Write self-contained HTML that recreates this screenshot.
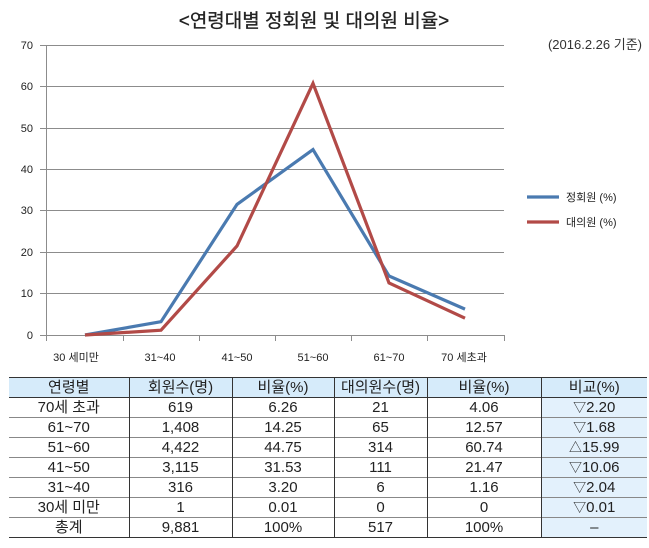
<!DOCTYPE html>
<html><head><meta charset="utf-8"><style>
body{margin:0;background:#fff;width:649px;height:548px;overflow:hidden;font-family:"Liberation Sans","Noto Sans CJK KR",sans-serif}
svg{position:absolute;left:0;top:0}
table{position:absolute;left:9px;top:377px;border-collapse:collapse;font-size:15px;color:#222}
td{height:19px;padding:0;text-align:center;border-left:1px solid #333;line-height:19px}
td:first-child{border-left:none}
tr{border-bottom:1px solid #888}
tr.h{background:#d6ebfa;border-top:1px solid #333;border-bottom:1px solid #333}
tr:last-child{border-bottom:1px solid #333}
td.c{background:#e3f1fc}
.t{font-size:13px}
</style></head><body>
<svg width="649" height="377" font-family="Liberation Sans, Noto Sans CJK KR, sans-serif">
<text x="314" y="27" font-size="19" text-anchor="middle" fill="#222" stroke="#222" stroke-width="0.3">&lt;연령대별 정회원 및 대의원 비율&gt;</text>
<text x="642" y="49" font-size="13" text-anchor="end" fill="#333">(2016.2.26 기준)</text>
<g stroke="#8c8c8c" stroke-width="1">
<line x1="40" y1="45.5" x2="504" y2="45.5"/><line x1="40" y1="86.5" x2="504" y2="86.5"/>
<line x1="40" y1="128.5" x2="504" y2="128.5"/><line x1="40" y1="169.5" x2="504" y2="169.5"/>
<line x1="40" y1="210.5" x2="504" y2="210.5"/><line x1="40" y1="252.5" x2="504" y2="252.5"/>
<line x1="40" y1="293.5" x2="504" y2="293.5"/><line x1="40" y1="335.5" x2="504" y2="335.5"/>
<line x1="46.5" y1="45" x2="46.5" y2="341"/>
<line x1="123.5" y1="335" x2="123.5" y2="341"/><line x1="199.5" y1="335" x2="199.5" y2="341"/>
<line x1="275.5" y1="335" x2="275.5" y2="341"/><line x1="351.5" y1="335" x2="351.5" y2="341"/>
<line x1="427.5" y1="335" x2="427.5" y2="341"/><line x1="504.5" y1="335" x2="504.5" y2="341"/>
</g>
<g font-size="11" fill="#222" text-anchor="end">
<text x="33" y="49">70</text><text x="33" y="90">60</text><text x="33" y="132">50</text><text x="33" y="173">40</text>
<text x="33" y="214">30</text><text x="33" y="256">20</text><text x="33" y="297">10</text><text x="33" y="339">0</text>
</g>
<g font-size="11" fill="#222" text-anchor="middle">
<text x="76" y="361">30 세미만</text><text x="160" y="361">31~40</text><text x="237" y="361">41~50</text>
<text x="313" y="361">51~60</text><text x="389" y="361">61~70</text><text x="464" y="361">70 세초과</text>
</g>
<polyline fill="none" stroke="#4a7ab0" stroke-width="3.2" points="85,335 161,321.7 237,204.4 313,149.6 389,276 465,309.1"/>
<polyline fill="none" stroke="#b24a47" stroke-width="3.2" points="85,335 161,330.2 237,246 313,83.4 389,282.9 465,318.2"/>
<line x1="527" y1="197" x2="559" y2="197" stroke="#4a7ab0" stroke-width="3.2"/>
<line x1="527" y1="222" x2="559" y2="222" stroke="#b24a47" stroke-width="3.2"/>
<g font-size="11" fill="#222"><text x="566" y="201">정회원 (%)</text><text x="566" y="226">대의원 (%)</text></g>
</svg>
<table>
<colgroup><col style="width:120px"><col style="width:103px"><col style="width:102px"><col style="width:93px"><col style="width:114px"><col style="width:106px"></colgroup>
<tr class="h"><td>연령별</td><td>회원수(명)</td><td>비율(%)</td><td>대의원수(명)</td><td>비율(%)</td><td>비교(%)</td></tr>
<tr><td>70세 초과</td><td>619</td><td>6.26</td><td>21</td><td>4.06</td><td class="c"><span class="t">▽</span>2.20</td></tr>
<tr><td>61~70</td><td>1,408</td><td>14.25</td><td>65</td><td>12.57</td><td class="c"><span class="t">▽</span>1.68</td></tr>
<tr><td>51~60</td><td>4,422</td><td>44.75</td><td>314</td><td>60.74</td><td class="c"><span class="t">△</span>15.99</td></tr>
<tr><td>41~50</td><td>3,115</td><td>31.53</td><td>111</td><td>21.47</td><td class="c"><span class="t">▽</span>10.06</td></tr>
<tr><td>31~40</td><td>316</td><td>3.20</td><td>6</td><td>1.16</td><td class="c"><span class="t">▽</span>2.04</td></tr>
<tr><td>30세 미만</td><td>1</td><td>0.01</td><td>0</td><td>0</td><td class="c"><span class="t">▽</span>0.01</td></tr>
<tr><td>총계</td><td>9,881</td><td>100%</td><td>517</td><td>100%</td><td class="c">–</td></tr>
</table>
</body></html>
